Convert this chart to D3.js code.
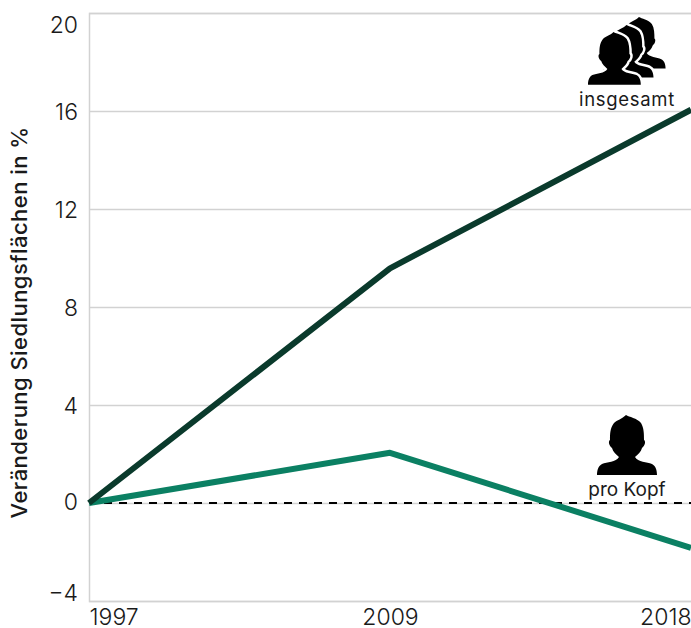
<!DOCTYPE html>
<html>
<head>
<meta charset="utf-8">
<script src="https://d3js.org/d3.v7.min.js"></script>
<style>
  html, body { margin: 0; padding: 0; background: #fff; }
  svg { display: block; }
  text { font-family: Inter, sans-serif; fill: #1a1a1a; }
</style>
</head>
<body>
<svg id="chart"></svg>
<script>
const years = ["1997", "2009", "2018"];
const insgesamt = [0, 9.58, 16.05];
const proKopf = [0, 2.05, -1.83];
const yTicks = [-4, 0, 4, 8, 12, 16, 20];

const width = 691;
const height = 628;
const margin = { top: 13, right: 0, bottom: 27, left: 89 };

const svg = d3.select("#chart")
    .attr("width", width)
    .attr("height", height);

const x = d3.scalePoint()
    .domain(years)
    .range([margin.left, width - margin.right]);

const y = d3.scaleLinear()
    .domain([-4, 20])
    .range([height - margin.bottom, margin.top]);

// grid + y labels
const yAxis = svg.append("g")
    .attr("transform", `translate(${margin.left}, 0)`)
    .call(d3.axisRight(y)
        .tickValues(yTicks)
        .tickSize(width - margin.left - margin.right)
        .tickFormat(d => d < 0 ? "\u2212" + Math.abs(d) : d));
yAxis.select(".domain").attr("stroke", "#d2d2d2").attr("stroke-width", 1.5);
yAxis.selectAll(".tick line").attr("stroke", "#d2d2d2").attr("stroke-width", 1.3);
// top and bottom labels sit inside the plot range, the zero label a bit above its line
yAxis.selectAll(".tick text")
    .attr("x", -11)
    .attr("dy", d => d === 20 ? "0.84em" : d === -4 ? "-0.04em" : d === 0 ? "0.27em" : "0.35em")
    .attr("text-anchor", "end")
    .style("font-size", "23px")
    .style("font-family", "Inter, sans-serif")
    .style("font-weight", 300);

// dashed zero line
svg.append("line")
    .attr("x1", x("1997"))
    .attr("x2", x("2018"))
    .attr("y1", y(0))
    .attr("y2", y(0))
    .attr("stroke", "#000")
    .attr("stroke-width", 1.8)
    .attr("stroke-dasharray", "8 7");

// x labels
const xAxis = svg.append("g")
    .attr("transform", `translate(0, ${height - margin.bottom})`)
    .call(d3.axisBottom(x).tickSize(0));
xAxis.select(".domain").remove();
xAxis.selectAll(".tick text")
    .attr("y", 8)
    .attr("dy", "0.71em")
    .attr("text-anchor", (d, i) => i === 0 ? "start" : i === years.length - 1 ? "end" : "middle")
    .style("font-size", "23px")
    .style("font-family", "Inter, sans-serif")
    .style("font-weight", 300);

svg.append("text")
    .attr("transform", "rotate(-90)")
    .attr("x", -322.5)
    .attr("y", 27)
    .attr("text-anchor", "middle")
    .style("font-size", "22px")
    .style("font-weight", 500)
    .style("letter-spacing", "0.45px")
    .text("Veränderung Siedlungsflächen in %");

const line = d3.line()
    .x((d, i) => x(years[i]))
    .y(d => y(d));

svg.append("path")
    .datum(proKopf)
    .attr("fill", "none")
    .attr("stroke", "#0b8063")
    .attr("stroke-width", 6)
    .attr("stroke-linejoin", "round")
    .attr("d", line);

svg.append("path")
    .datum(insgesamt)
    .attr("fill", "none")
    .attr("stroke", "#0a3a2c")
    .attr("stroke-width", 6)
    .attr("stroke-linejoin", "round")
    .attr("d", line);

// person icon, drawn in a 60 x 60 box
const person = "M29 0 C32 2 40 3 44 8 C47 13 47 19 47 25 C49 26 48 31 45 33 C44 37 41 39 38 42 C41 47 50 47 55 49 C59 51 60 56 60 60 L0 60 C0 56 1 51 5 49 C10 47 19 47 22 42 C19 39 16 37 15 33 C12 31 11 26 13 25 C13 19 13 13 17 8 C20 5 25 4 29 0 Z";

function drawPerson(px, py, s, halo) {
    svg.append("path")
        .attr("d", person)
        .attr("transform", `translate(${px}, ${py}) scale(${s})`)
        .attr("fill", "#000")
        .attr("stroke", "#fff")
        .attr("stroke-width", halo / s)
        .attr("paint-order", "stroke");
}

drawPerson(614, 17, 0.86, 0);
drawPerson(601, 25, 0.875, 5);
drawPerson(588, 32, 0.88, 5);
drawPerson(597, 415, 1, 0);

svg.append("text")
    .attr("x", 627)
    .attr("y", 106)
    .attr("text-anchor", "middle")
    .style("font-size", "18.5px")
    .style("font-weight", 400)
    .style("letter-spacing", "0.7px")
    .text("insgesamt");

svg.append("text")
    .attr("x", 627)
    .attr("y", 496)
    .attr("text-anchor", "middle")
    .style("font-size", "19px")
    .style("font-weight", 400)
    .text("pro Kopf");
</script>
</body>
</html>
